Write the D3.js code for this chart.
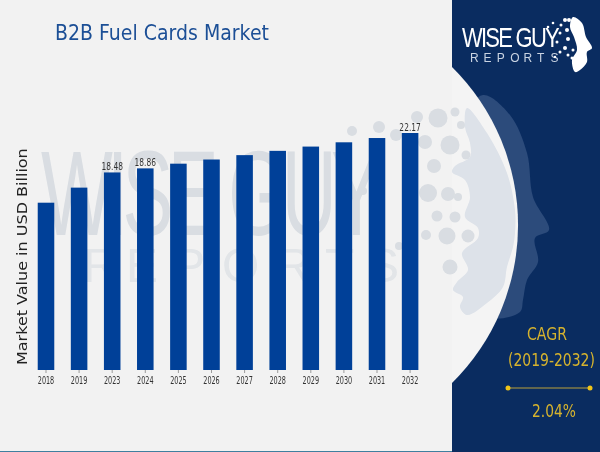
<!DOCTYPE html>
<html><head><meta charset="utf-8">
<script src="https://cdn.jsdelivr.net/npm/d3@7"></script>
<style>html,body{margin:0;padding:0;background:#f2f2f2}svg{display:block}
text{font-family:"DejaVu Sans"}</style></head>
<body><svg id="chart" width="600" height="452"></svg>
<script>
const categories = ["2018","2019","2023","2024","2025","2026","2027","2028","2029","2030","2031","2032"];
const values = [15.65,17.06,18.48,18.86,19.3,19.69,20.1,20.5,20.9,21.3,21.7,22.17];
const labelled = ["2023","2024","2032"];
const labelText = {"2023":"18.48","2024":"18.86","2032":"22.17"};
const title = "B2B Fuel Cards Market";
const yTitle = "Market Value in USD Billion";

const svg = d3.select("#chart");
const defs = svg.append("defs");
defs.append("filter").attr("id","soft").append("feGaussianBlur").attr("stdDeviation",0.7);
defs.append("filter").attr("id","soft2").append("feGaussianBlur").attr("stdDeviation",0.3);

function fit(sel, x0, y0, w, rot){
  sel.each(function(){
    const n=this.getComputedTextLength();
    d3.select(this).attr("transform",`translate(${x0},${y0})${rot?` rotate(${rot})`:""} scale(${w/n},1)`);
  });
  return sel;
}

svg.append("rect").attr("width",600).attr("height",452).attr("fill","#f2f2f2");
svg.append("rect").attr("x",452).attr("width",148).attr("height",452).attr("fill","#0a2c60");
svg.append("rect").attr("y",451).attr("width",452).attr("height",1).attr("fill","#3f7f9f");

const line = d3.line().curve(d3.curveCatmullRomClosed.alpha(0.5));
const headOuter = [[483,95],[510,115],[527,153],[533,197],[549,230],[535,238],[538,262],[527,280],[523,300],[520,312],[490,318],[465,300],[465,120]];
svg.append("path").attr("d",line(headOuter)).attr("fill","#2c4b7b");
svg.append("path").attr("d","M452,67A222,222 0 0 1 452,383Z").attr("fill","#f4f4f4");

// watermark
const wm = svg.append("g").attr("filter","url(#soft)").attr("fill","#d9dde2");
fit(wm.append("text").style("font-family","Liberation Sans").style("letter-spacing","-9px").attr("font-size",121).text("WISE GUY"),41,235,335);
const wmLetters = ["R","E","P","O","R","T","S"], wmX=[83,126,173,222,276,325,367];
wm.selectAll("text.l").data(wmLetters).join("text").attr("class","l")
  .attr("x",(d,i)=>wmX[i]).attr("y",282).style("font-family","Liberation Sans").attr("font-size",48).attr("fill","#e2e5e8").text(d=>d);
const wmDots=[[438,118,9.5],[455,112,4.5],[461,125,4],[450,145,9.5],[466,155,4.5],[434,166,7],[425,142,7],[428,193,9],[448,194,7],[458,197,4],[437,216,5.5],[455,217,5.5],[426,235,5],[447,236,8.5],[468,236,6.5],[450,267,7.5],[417,117,6],[379,127,6],[352,131,5],[396,135,6],[363,191,4],[399,246,4]];
wm.selectAll("circle").data(wmDots).join("circle").attr("cx",d=>d[0]).attr("cy",d=>d[1]).attr("r",d=>d[2]);
const headInner=[[467,108],[487,133],[507,173],[515,210],[515,233],[513,247],[507,267],[503,287],[487,303],[467,315],[460,307],[463,297],[453,290],[457,282],[468,270],[462,253],[478,238],[478,228],[465,217],[470,197],[465,180],[452,172],[455,166],[470,157],[470,143],[465,127]];
wm.append("path").attr("d",line(headInner)).attr("fill","#dde2e9");

// chart
const x = d3.scaleBand().domain(categories).range([29.45,426.65]).paddingInner(.5).paddingOuter(.25);
const y = d3.scaleLinear().domain([0,22.17]).range([370,133]);
const data = categories.map((c,i)=>({c,v:values[i]}));
svg.append("g").selectAll("rect").data(data).join("rect")
  .attr("x",d=>x(d.c)).attr("width",x.bandwidth()).attr("y",d=>y(d.v)).attr("height",d=>y(0)-y(d.v))
  .attr("fill","#004098");
svg.append("g").selectAll("text").data(data.filter(d=>labelled.includes(d.c))).join("text")
  .attr("text-anchor","middle").attr("font-size",11).attr("fill","#333").attr("filter","url(#soft2)").text(d=>labelText[d.c])
  .each(function(d){
    const n=this.getComputedTextLength();
    d3.select(this).attr("transform",`translate(${x(d.c)+x.bandwidth()/2},${y(d.v)-2.5}) scale(${21.5/n},1)`);
  });
const ax = svg.append("g").attr("transform","translate(0,370)").call(d3.axisBottom(x).tickSize(3).tickPadding(3.5));
ax.select(".domain").remove();
ax.selectAll("line").attr("stroke","#777").attr("stroke-width",.7);
ax.selectAll("text").attr("font-size",10).attr("fill","#333").attr("font-family",null).style("font-family",'"DejaVu Sans"').attr("filter","url(#soft2)")
  .each(function(){
    const n=this.getComputedTextLength();
    d3.select(this).attr("transform",`scale(${16.5/n},1)`);
  });

fit(svg.append("text").attr("font-size",22).attr("fill","#1c4f96").attr("filter","url(#soft2)").text(title),55,39.5,214);
fit(svg.append("text").attr("font-size",13.5).attr("fill","#222").attr("filter","url(#soft2)").text(yTitle),27,365,217,-90);

// logo
const logo = svg.append("g").attr("filter","url(#soft2)");
fit(logo.append("text").style("font-family","Liberation Sans").style("letter-spacing","-2.2px").attr("font-size",28).attr("fill","#fff").text("WISE GUY"),462,47,96);
const rl=["R","E","P","O","R","T","S"];
logo.selectAll("text.r").data(rl).join("text").attr("class","r").attr("x",(d,i)=>470+i*13.4).attr("y",62)
  .style("font-family","Liberation Sans").attr("font-size",12).attr("fill","#c9d3e2").text(d=>d);
logo.append("path").attr("d",line([[573,17],[582,23],[586,37],[592,48],[587,52],[587,62],[580,70],[575,72],[572,60],[577,50],[574,37],[570,27]])).attr("fill","#fff");
const logoDots=[[565,20,2],[569,20,2],[561,25,1.5],[553,23,1.3],[548,27,1.3],[567,30,2],[560,33,1.5],[568,39,2],[557,42,1.5],[565,48,2],[573,50,1.5],[560,52,1.5],[572,58,1.5],[555,57,1.2],[577,68,1.5],[568,55,1.5]];
logo.selectAll("circle").data(logoDots).join("circle").attr("cx",d=>d[0]).attr("cy",d=>d[1]).attr("r",d=>d[2]).attr("fill","#fff");

// CAGR
const g = svg.append("g").attr("fill","#d6b32e").attr("filter","url(#soft2)");
fit(g.append("text").attr("font-size",18).text("CAGR"),527,340,40);
fit(g.append("text").attr("font-size",18).text("(2019-2032)"),508,366,87);
fit(g.append("text").attr("font-size",18).text("2.04%"),532,417,44);
svg.append("line").attr("x1",508).attr("x2",590).attr("y1",388).attr("y2",388).attr("stroke","#b9a03a").attr("stroke-width",1.2);
svg.selectAll("circle.e").data([508,590]).join("circle").attr("class","e").attr("cx",d=>d).attr("cy",388).attr("r",2.5).attr("fill","#f0c419");
</script></body></html>
